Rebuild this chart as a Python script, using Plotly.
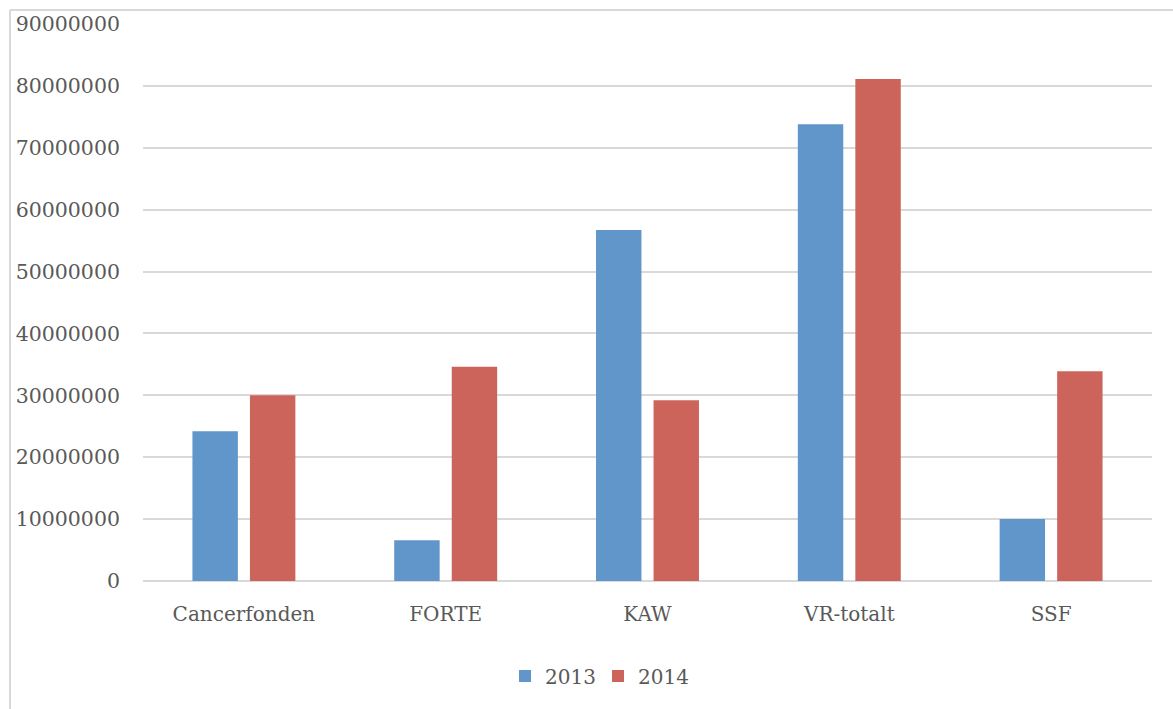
import plotly.graph_objects as go

categories = ["Cancerfonden", "FORTE", "KAW", "VR-totalt", "SSF"]
values_2013 = [24200000, 6600000, 56700000, 73800000, 10000000]
values_2014 = [30000000, 34600000, 29200000, 81100000, 33900000]
series_names = ["2013", "2014"]
y_ticks = list(range(0, 90000001, 10000000))

W, H = 1173, 709
ML, MR, MT, MB = 143, 21, 24, 128
PW, PH = W - ML - MR, H - MT - MB

FONT = "DejaVu Serif"
GRAY = "#595959"
GRID = "#D9D9D9"

fig = go.Figure()
fig.add_trace(go.Bar(name=series_names[0], x=categories, y=values_2013,
                     marker=dict(color="#6096CA", line=dict(width=0))))
fig.add_trace(go.Bar(name=series_names[1], x=categories, y=values_2014,
                     marker=dict(color="#CD645C", line=dict(width=0))))

def px_x(p):
    return (p - ML) / PW

def px_y(p):
    return (H - MB - p) / PH

fig.update_layout(
    width=W, height=H,
    margin=dict(l=ML, r=MR, t=MT, b=MB, autoexpand=False),
    paper_bgcolor="white", plot_bgcolor="white",
    barmode="group", bargap=0.43, bargroupgap=0.21,
    font=dict(family=FONT, size=20, color=GRAY),
    xaxis=dict(showgrid=False, showline=False, zeroline=False,
               ticks="", tickfont=dict(family=FONT, size=20, color=GRAY),
               ticklabelstandoff=19),
    yaxis=dict(range=[0, 90000000], tickvals=y_ticks,
               ticktext=[str(v) for v in y_ticks],
               showgrid=True, gridcolor=GRID, gridwidth=2,
               zeroline=True, zerolinecolor=GRID, zerolinewidth=2,
               showline=False, ticks="",
               tickfont=dict(family=FONT, size=20.5, color=GRAY),
               ticklabelstandoff=22),
    legend=dict(orientation="h", x=px_x(598), xanchor="center",
                y=px_y(676), yanchor="middle",
                font=dict(family=FONT, size=20, color=GRAY),
                traceorder="normal", itemwidth=30,
                entrywidth=48, entrywidthmode="pixels"),
    showlegend=True,
    shapes=[
        dict(type="line", xref="paper", yref="paper",
             x0=px_x(10), x1=px_x(W + 5), y0=px_y(10), y1=px_y(10),
             line=dict(color=GRID, width=2)),
        dict(type="line", xref="paper", yref="paper",
             x0=px_x(10), x1=px_x(10), y0=px_y(10), y1=px_y(H + 5),
             line=dict(color=GRID, width=2)),
    ],
)

fig.write_html("out.html",
               config={"displayModeBar": False},
               post_script="document.body.style.margin='0';document.body.style.overflow='hidden';")
